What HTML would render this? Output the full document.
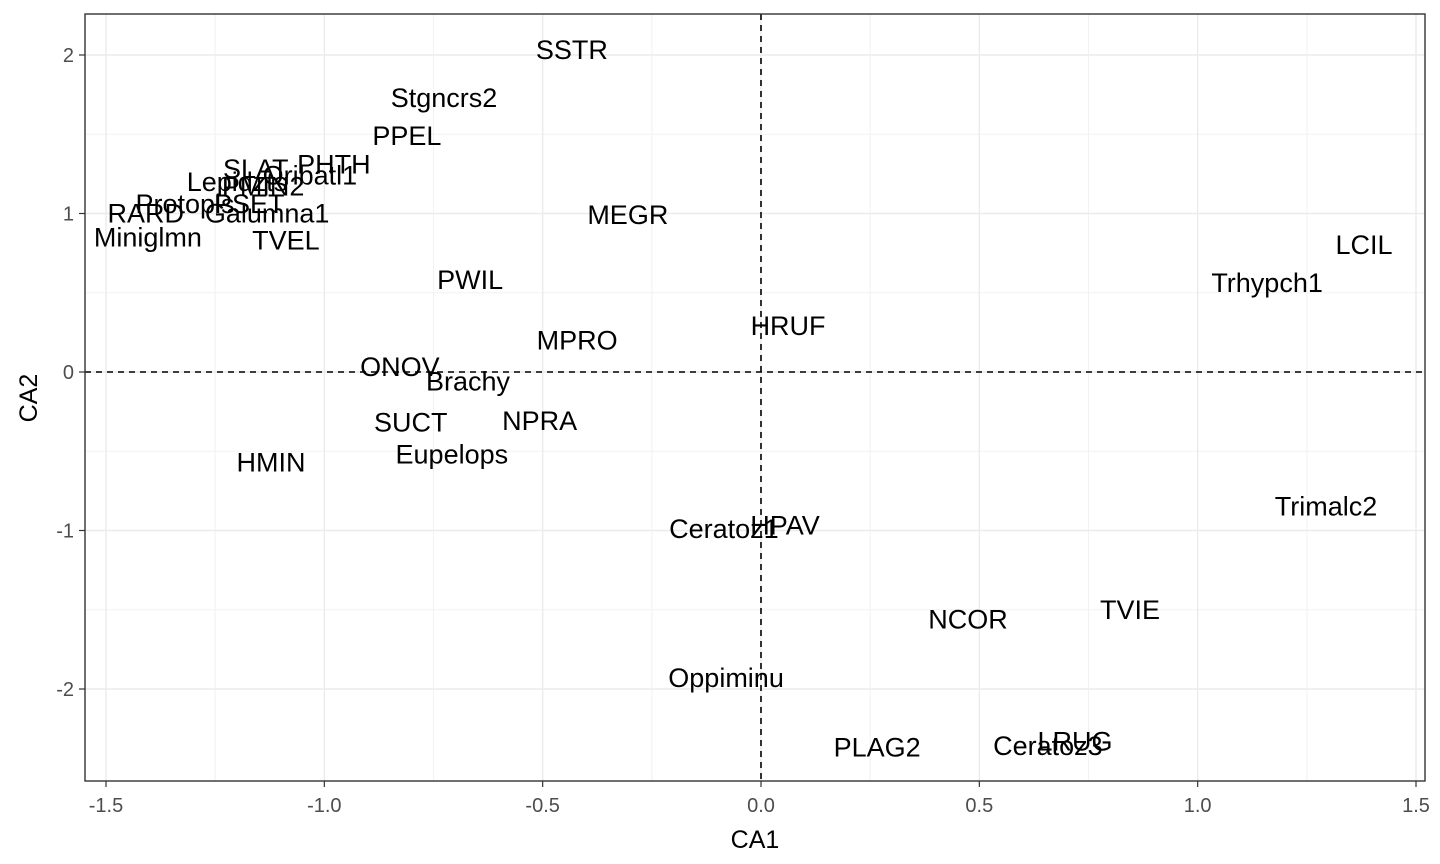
<!DOCTYPE html>
<html><head><meta charset="utf-8"><style>body{margin:0;background:#fff}svg{display:block;font-family:"Liberation Sans",Arial,sans-serif}</style></head>
<body>
<svg id="chart" width="1440" height="864" viewBox="0 0 1440 864"></svg>
<script>
const labels=["SSTR","Stgncrs2","PPEL","PHTH","SLAT","Oribatl1","Lepidzts","PMIN2","Protopls","PSET","RARD","Galumna1","Miniglmn","TVEL","MEGR","PWIL","MPRO","HRUF","ONOV","Brachy","SUCT","NPRA","Eupelops","HMIN","Ceratoz1","HPAV","Trimalc2","LCIL","Trhypch1","NCOR","TVIE","Oppiminu","PLAG2","Ceratoz3","LRUG"];
const ca1=[-0.433,-0.726,-0.811,-0.978,-1.157,-1.033,-1.200,-1.140,-1.319,-1.172,-1.409,-1.131,-1.404,-1.088,-0.305,-0.666,-0.421,0.062,-0.827,-0.671,-0.802,-0.507,-0.708,-1.122,-0.085,0.055,1.294,1.381,1.159,0.474,0.845,-0.080,0.266,0.657,0.719];
const ca2=[2.03,1.73,1.49,1.31,1.28,1.24,1.20,1.17,1.06,1.06,1.00,1.00,0.85,0.83,0.99,0.58,0.20,0.29,0.03,-0.06,-0.32,-0.31,-0.52,-0.57,-0.99,-0.97,-0.85,0.80,0.56,-1.56,-1.50,-1.93,-2.37,-2.36,-2.33];
const xTicks=[-1.5,-1.0,-0.5,0.0,0.5,1.0,1.5];
const xTickLabels=["-1.5","-1.0","-0.5","0.0","0.5","1.0","1.5"];
const yTicks=[-2,-1,0,1,2];
const yTickLabels=["-2","-1","0","1","2"];
const xMinor=[-1.25,-0.75,-0.25,0.25,0.75,1.25];
const yMinor=[-1.5,-0.5,0.5,1.5];

const L=85,R=1425,T=14,B=781;
const sx=v=>761+v*436.67;
const sy=v=>372-v*158.5;
const svg=document.getElementById('chart');
const NS='http://www.w3.org/2000/svg';
function mk(tag,attrs,parent){const e=document.createElementNS(NS,tag);for(const k in attrs)e.setAttribute(k,attrs[k]);(parent||svg).appendChild(e);return e;}

xMinor.forEach(v=>{const e=mk('line',{x1:sx(v),x2:sx(v),y1:T,y2:B,stroke:'#f2f2f2','stroke-width':1});

});
yMinor.forEach(v=>{const e=mk('line',{x1:L,x2:R,y1:sy(v),y2:sy(v),stroke:'#f2f2f2','stroke-width':1});

});
xTicks.forEach((v,i)=>{const g=mk('line',{x1:sx(v),x2:sx(v),y1:T,y2:B,stroke:'#ebebeb','stroke-width':1.4});


const t=mk('line',{x1:sx(v),x2:sx(v),y1:B,y2:B+6,stroke:'#333','stroke-width':1.2});


const l=mk('text',{x:sx(v),y:812,'text-anchor':'middle','font-size':20,fill:'#4d4d4d'});l.textContent=xTickLabels[i];

});
yTicks.forEach((v,i)=>{const g=mk('line',{x1:L,x2:R,y1:sy(v),y2:sy(v),stroke:'#ebebeb','stroke-width':1.4});


const t=mk('line',{x1:L-6,x2:L,y1:sy(v),y2:sy(v),stroke:'#333','stroke-width':1.2});


const l=mk('text',{x:74,y:sy(v)+7,'text-anchor':'end','font-size':20,fill:'#4d4d4d'});l.textContent=yTickLabels[i];

});
const v0=mk('line',{x1:sx(0),x2:sx(0),y1:T,y2:B,stroke:'#000','stroke-width':1.6,'stroke-dasharray':'6,5'});


const h0=mk('line',{x1:L,x2:R,y1:sy(0),y2:sy(0),stroke:'#000','stroke-width':1.6,'stroke-dasharray':'6,5'});


labels.forEach((s,i)=>{const t=mk('text',{x:sx(ca1[i]),y:sy(ca2[i])+9,'text-anchor':'middle','font-size':27,fill:'#000'});t.textContent=s;

});
const fr=mk('rect',{x:L,y:T,width:R-L,height:B-T,fill:'none',stroke:'#333','stroke-width':1.4});


const xt=mk('text',{x:755,y:848,'text-anchor':'middle','font-size':25,fill:'#000'});xt.textContent='CA1';


const yt=mk('text',{x:37,y:398,'text-anchor':'middle','font-size':25,fill:'#000',transform:'rotate(-90 37 398)'});yt.textContent='CA2';


</script>
</body></html>
